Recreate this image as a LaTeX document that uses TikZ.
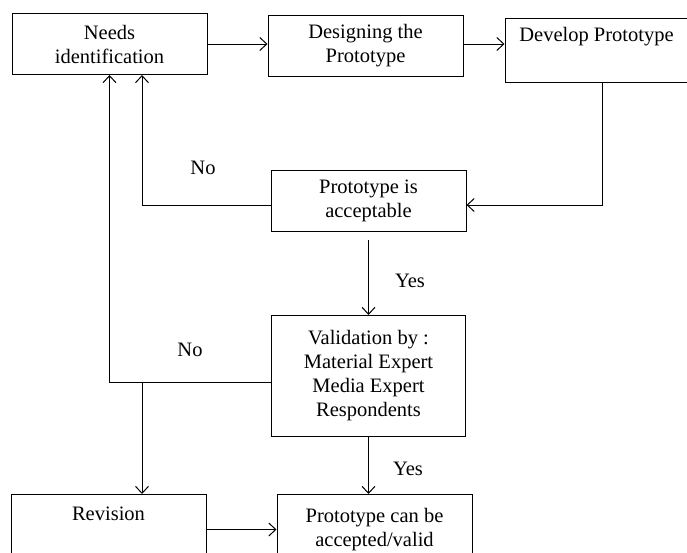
\documentclass[tikz,border=0pt]{standalone}
\usepackage{fontspec}
\setmainfont{Liberation Serif}
\usepackage{tikz}
\usetikzlibrary{arrows.meta, positioning}

\begin{document}
\begin{tikzpicture}[x=1pt, y=1pt,
    stage/.style={rectangle, draw=black, line width=1pt,
                  minimum width=195pt, minimum height=61pt, text centered,
                  align=center, inner sep=2pt,
                  font=\fontsize{20.5}{24}\selectfont},
    answer/.style={font=\fontsize{20.5}{24}\selectfont},
    arrow/.style={-{Straight Barb[length=7pt, width=13pt]}, line width=1pt}
]
\clip (0,0) rectangle (687,-552);

% --- Top row ---
\node (needs) [stage] at (109.5,-44) {Needs\\identification};
\node (design) [stage, right=60pt of needs, yshift=-2pt] {Designing the\\Prototype};
\node (develop) [stage, right=41pt of design, minimum width=183pt, minimum height=64pt,
                 yshift=-4pt] {Develop Prototype\\ \strut};

% --- Checking ---
\node (accept) [stage, below=93pt of design, xshift=3pt] {Prototype is\\acceptable};
\node (valid) [stage, below=83pt of accept, minimum width=194pt, minimum height=121pt]
    {Validation by :\\Material Expert\\Media Expert\\Respondents};

% --- Bottom row ---
\node (accepted) [stage, below=57pt of valid, xshift=6pt, minimum height=70pt]
    {Prototype can be\\accepted/valid};
\node (revision) [stage, left=70pt of accepted, minimum height=70pt] {Revision\\ \strut};

% --- Arrows ---
\coordinate (vjoin) at ([yshift=-6pt]valid.west);
\coordinate (split) at ([xshift=32.5pt]needs.south |- vjoin);
\draw [arrow] (needs) -- (needs -| design.west);
\draw [arrow] (needs -| design.east) -- (needs -| develop.west);
\draw [arrow] ([xshift=6pt]develop.south) |- ([yshift=-4pt]accept.east);
\draw [arrow] ([yshift=-4pt]accept.west) -| ([xshift=32.5pt]needs.south);
\draw [arrow] ([yshift=-8pt]accept.south) -- (accept.south |- valid.north);
\draw [arrow] (vjoin) -| (needs.south);
\draw [arrow] (split) -- (split |- revision.north);
\draw [arrow] (valid.south) -- (valid.south |- accepted.north);
\draw [arrow] (revision) -- (accepted);

% --- Answers ---
\node (no1) [answer] at (203,-168) {No};
\node (yes1) [answer] at (410,-281) {Yes};
\node (no2) [answer] at (190,-350) {No};
\node (yes2) [answer] at (408,-469) {Yes};
\end{tikzpicture}
\end{document}
